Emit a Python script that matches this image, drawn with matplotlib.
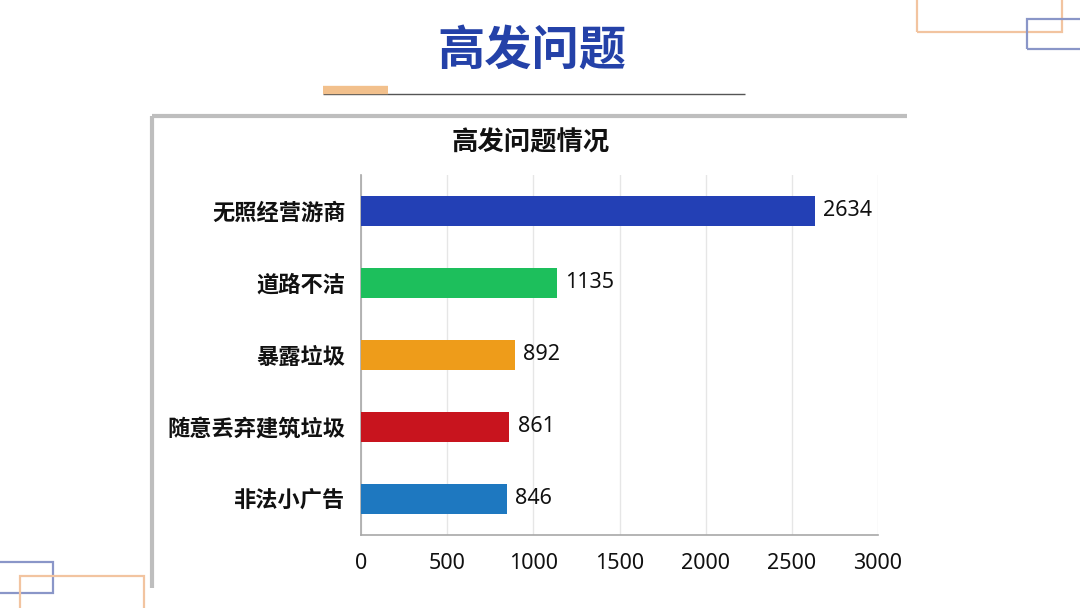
import numpy as np
import matplotlib
matplotlib.use("Agg")
import matplotlib.pyplot as plt
from matplotlib.patches import Rectangle
from matplotlib.lines import Line2D

plt.rcParams['font.family'] = ['Noto Sans CJK SC', 'DejaVu Sans']

# ========== 数据 ==========
categories = ["无照经营游商", "道路不洁", "暴露垃圾", "随意丢弃建筑垃圾", "非法小广告"]
counts = [2634, 1135, 892, 861, 846]
bar_colors = ["#2340B5", "#1DBF5C", "#EE9C1A", "#C8141E", "#1E78C0"]
xticks = [0, 500, 1000, 1500, 2000, 2500, 3000]

W, H = 1080, 608
fig = plt.figure(figsize=(W / 100, H / 100), dpi=100)
fig.patch.set_facecolor("white")
NUM_FONT = ["Noto Sans", "DejaVu Sans"]


def fx(x):
    return x / W


def fy(y):
    return 1 - y / H


# ========== 装饰 ==========
def rect(x0, y0, x1, y1, color, lw=1.6):
    fig.add_artist(Rectangle((fx(x0), fy(y1)), fx(x1) - fx(x0), fy(y0) - fy(y1),
                             fill=False, edgecolor=color, linewidth=lw,
                             transform=fig.transFigure))


def line(x0, y0, x1, y1, color, lw):
    fig.add_artist(Line2D([fx(x0), fx(x1)], [fy(y0), fy(y1)], color=color,
                          linewidth=lw, transform=fig.transFigure,
                          solid_capstyle="butt"))


rect(917, -5, 1062, 32, "#F2C4A0")
rect(1027, 19, 1090, 49, "#8A96C8")
rect(-5, 562, 53, 593, "#8A96C8")
rect(20, 576, 144, 615, "#F2C4A0")

# 标题及下划线
fig.text(fx(532), fy(51), "高发问题", ha="center", va="center",
         fontsize=34, fontweight="bold", color="#2441A8")
line(323, 94, 745, 94, "#555555", 1.0)
line(323, 90, 388, 90, "#F2C08C", 6)

# 图表外框（左、上）
line(152, 116, 907, 116, "#BEBEBE", 3)
line(152, 116, 152, 588, "#BEBEBE", 3)

# ========== 条形图 ==========
ax = fig.add_axes([fx(361), fy(535), fx(878) - fx(361), fy(175) - fy(535)])
y = np.arange(len(categories))
ax.barh(y, counts, height=0.42, color=bar_colors, zorder=3)
ax.set_ylim(len(categories) - 0.5, -0.5)
ax.set_xlim(0, 3000)
ax.set_xticks(xticks)
ax.set_xticklabels([str(t) for t in xticks], fontsize=15.5, color="#111111",
                   family=NUM_FONT)
ax.set_yticks(y)
ax.set_yticklabels(categories, fontsize=16, fontweight="bold", color="#111111")
ax.tick_params(axis="both", length=0)
ax.tick_params(axis="x", pad=13)
ax.tick_params(axis="y", pad=11)
ax.grid(axis="x", color="#E6E6E6", linewidth=1, zorder=0)
for s in ["top", "right"]:
    ax.spines[s].set_visible(False)
for s in ["left", "bottom"]:
    ax.spines[s].set_color("#A8A8A8")
    ax.spines[s].set_linewidth(1.2)

for yi, v in zip(y, counts):
    ax.annotate(str(v), (v, yi), xytext=(6, 0), textcoords="offset points",
                ha="left", va="center", fontsize=15.5, color="#111111",
                family=NUM_FONT)

fig.text(fx(531), fy(143), "高发问题情况", ha="center", va="center",
         fontsize=19, fontweight="bold", color="#111111")

fig.savefig("out.png", dpi=100)
